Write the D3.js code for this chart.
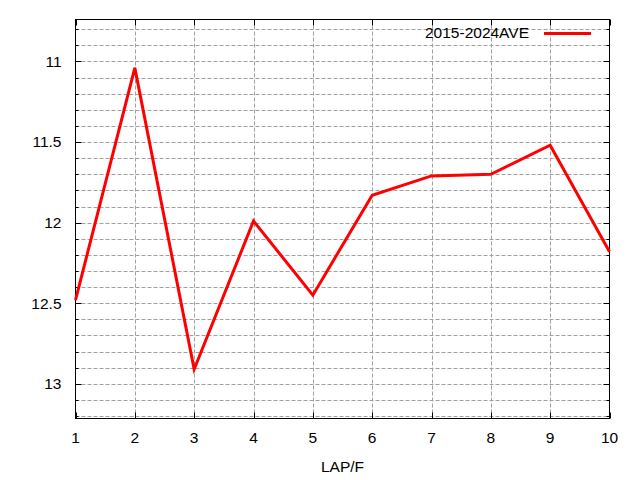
<!DOCTYPE html>
<html><head><meta charset="utf-8">
<script src="https://cdn.jsdelivr.net/npm/d3@7"></script>
<style>body{margin:0;background:#fff}svg{display:block}text{font-family:"Liberation Sans",Arial,sans-serif}</style>
</head><body><svg id="c" width="640" height="480"></svg>
<script>
const laps = [1,2,3,4,5,6,7,8,9,10];
const ave = [12.48,11.04,12.91,11.99,12.45,11.83,11.71,11.70,11.52,12.18];
const yMajorTicks = [11,11.5,12,12.5,13];
const seriesName = "2015-2024AVE";
const xLabel = "LAP/F";

const svg = d3.select("#c");
const L=75.5, R=609.5, T=19.5, B=418.5;
const x = d3.scaleLinear().domain([1,10]).range([L,R]);
const y = d3.scaleLinear().domain([10.74,13.215]).range([T,B]);
const yMinor = d3.range(10.8,13.21,0.1).map(v=>Math.round(v*10)/10);

const g = svg.append("g");
// grid
g.selectAll(".gy").data(yMinor).enter().append("line")
  .attr("x1",L).attr("x2",R).attr("y1",d=>Math.round(y(d))+0.5).attr("y2",d=>Math.round(y(d))+0.5)
  .attr("stroke","#a0a0a0").attr("stroke-dasharray","4,2").attr("stroke-width",1);
g.selectAll(".gx").data(laps.slice(1,-1)).enter().append("line")
  .attr("y1",T).attr("y2",B).attr("x1",d=>Math.round(x(d))+0.5).attr("x2",d=>Math.round(x(d))+0.5)
  .attr("stroke","#a0a0a0").attr("stroke-dasharray","4,2").attr("stroke-width",1);
// ticks
yMinor.forEach(v=>{
  const major = yMajorTicks.some(m=>Math.abs(m-v)<1e-6);
  const len = major?6:3;
  const yy=Math.round(y(v))+0.5;
  g.append("line").attr("x1",L).attr("x2",L+len).attr("y1",yy).attr("y2",yy).attr("stroke","#000");
  g.append("line").attr("x1",R).attr("x2",R-len).attr("y1",yy).attr("y2",yy).attr("stroke","#000");
});
laps.forEach(v=>{
  const xx=Math.round(x(v))+0.5;
  g.append("line").attr("y1",B).attr("y2",B-6).attr("x1",xx).attr("x2",xx).attr("stroke","#000");
  g.append("line").attr("y1",T).attr("y2",T+6).attr("x1",xx).attr("x2",xx).attr("stroke","#000");
});
// labels
g.selectAll(".yl").data(yMajorTicks).enter().append("text")
  .attr("x",L-14).attr("y",d=>y(d)).attr("dy","0.35em").attr("text-anchor","end")
  .attr("font-size",15.5).text(d=>d);
g.selectAll(".xl").data(laps).enter().append("text")
  .attr("x",d=>x(d)).attr("y",B+24).attr("text-anchor","middle")
  .attr("font-size",15.5).text(d=>d);
svg.append("text").attr("x",(L+R)/2).attr("y",472).attr("text-anchor","middle").attr("font-size",15.5).text(xLabel);
// frame
svg.append("rect").attr("x",L).attr("y",T).attr("width",R-L).attr("height",B-T).attr("fill","none").attr("stroke","#000").attr("stroke-width",1);
// legend
svg.append("text").attr("x",529).attr("y",33).attr("dy","0.35em").attr("text-anchor","end").attr("font-size",15.5).text(seriesName);
svg.append("line").attr("x1",544).attr("x2",591).attr("y1",33.5).attr("y2",33.5).attr("stroke","#ff0000").attr("stroke-width",3);
// series
const line = d3.line().x((d,i)=>x(laps[i])).y(d=>y(d));
svg.append("path").datum(ave).attr("d",line).attr("fill","none").attr("stroke","#ff0000").attr("stroke-width",3).attr("stroke-linejoin","miter");
</script></body></html>
